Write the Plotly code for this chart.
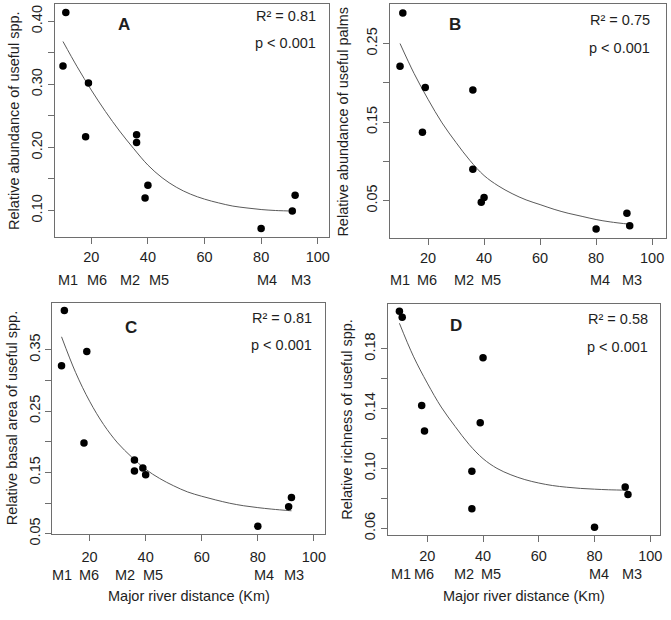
import plotly.graph_objects as go

W, H = 671, 620

# ---------------- data ----------------
distance_km = [10, 11, 18, 19, 36, 36, 39, 40, 80, 91, 92]

abund_useful = [0.329, 0.414, 0.217, 0.302, 0.220, 0.208, 0.120, 0.140, 0.0715, 0.099, 0.124]
abund_palms = [0.221, 0.289, 0.137, 0.194, 0.191, 0.090, 0.048, 0.054, 0.014, 0.034, 0.018]
basal_useful = [0.324, 0.414, 0.198, 0.347, 0.170, 0.152, 0.157, 0.146, 0.062, 0.094, 0.109]
rich_useful = [0.205, 0.201, 0.142, 0.125, 0.098, 0.073, 0.1305, 0.174, 0.0607, 0.0876, 0.0825]

# fitted curves
fit_x = [10, 15, 20, 25, 30, 35, 40, 45, 50, 55, 60, 65, 70, 75, 80, 85, 92]
fit_y_A = [0.368, 0.328, 0.291, 0.257, 0.226, 0.198, 0.172, 0.152, 0.137, 0.126, 0.118,
           0.112, 0.107, 0.104, 0.1015, 0.100, 0.099]
fit_y_B = [0.250, 0.212, 0.179, 0.149, 0.124, 0.101, 0.082, 0.069, 0.059, 0.051, 0.045,
           0.039, 0.034, 0.030, 0.026, 0.023, 0.020]
fit_y_C = [0.371, 0.313, 0.266, 0.228, 0.198, 0.175, 0.155, 0.140, 0.128, 0.118, 0.111,
           0.105, 0.0996, 0.0955, 0.0925, 0.090, 0.0873]
fit_y_D = [0.197, 0.175, 0.157, 0.141, 0.128, 0.116, 0.1065, 0.100, 0.0957, 0.0925, 0.0902,
           0.0885, 0.0874, 0.0866, 0.0861, 0.0857, 0.0854]

site_labels = ["M1", "M6", "M2", "M5", "M4", "M3"]
site_label_x_A = [11.6, 22.1, 33.8, 43.8, 82.1, 94.2]
site_label_x_B = [9.9, 19.6, 32.8, 42.5, 81.4, 92.9]
site_label_x_C = [10.0, 19.8, 32.8, 42.7, 82.1, 92.9]
site_label_x_D = [10.5, 18.8, 33.2, 43.0, 81.6, 93.5]

x_ticks = [20, 40, 60, 80, 100]
y_ticks_A = [0.10, 0.15, 0.20, 0.25, 0.30, 0.35, 0.40]
y_text_A = ["0.10", "", "0.20", "", "0.30", "", "0.40"]
y_ticks_B = [0.05, 0.10, 0.15, 0.20, 0.25]
y_text_B = ["0.05", "", "0.15", "", "0.25"]
y_ticks_C = [0.05, 0.10, 0.15, 0.20, 0.25, 0.30, 0.35]
y_text_C = ["0.05", "", "0.15", "", "0.25", "", "0.35"]
y_ticks_D = [0.06, 0.08, 0.10, 0.12, 0.14, 0.16, 0.18]
y_text_D = ["0.06", "", "0.10", "", "0.14", "", "0.18"]

panel_letters = ["A", "B", "C", "D"]
r2_texts = ["R² = 0.81", "R² = 0.75", "R² = 0.81", "R² = 0.58"]
p_texts = ["p < 0.001"] * 4
y_titles = ["Relative abundance of useful spp.", "Relative abundance of useful palms",
            "Relative basal area of useful spp.", "Relative richness of useful spp."]
x_title = "Major river distance (Km)"

# ---------------- layout geometry (pixels) ----------------
FONT = "Liberation Sans, Arial, sans-serif"
TXT = "#1e1e1e"
AXC = "#6e6e6e"
FS = 14.5


def px_x(p):
    return p / W


def px_y(p):
    return (H - p) / H


panels = [
    dict(box=(55.3, 4, 330, 241.7), xr=[7.2, 103.8], yr=[0.0573, 0.4276],
         y=abund_useful, fy=fit_y_A, yt=y_ticks_A, ytt=y_text_A,
         sx=site_label_x_A, site_y=285, letter_x=31.7, letter_y=25, r2_y=16, p_y=44,
         ytitle_x=13.3, xtitle=False, xstand=0),
    dict(box=(391.7, 4, 669, 242.7), xr=[6.4, 104.96], yr=[0.002, 0.3004],
         y=abund_palms, fy=fit_y_B, yt=y_ticks_B, ytt=y_text_B,
         sx=site_label_x_B, site_y=285, letter_x=29.5, letter_y=25, r2_y=20.5, p_y=48.5,
         ytitle_x=345, xtitle=False, xstand=0),
    dict(box=(52.7, 308.3, 326, 544), xr=[6.76, 103.8], yr=[0.0489, 0.4264],
         y=basal_useful, fy=fit_y_C, yt=y_ticks_C, ytt=y_text_C,
         sx=site_label_x_C, site_y=585, letter_x=34.6, letter_y=333.3, r2_y=323.3, p_y=351.7,
         ytitle_x=11.7, xtitle=True, xstand=3),
    dict(box=(390, 309, 662.7, 544.3), xr=[6.0, 103.4], yr=[0.0557, 0.2102],
         y=rich_useful, fy=fit_y_D, yt=y_ticks_D, ytt=y_text_D,
         sx=site_label_x_D, site_y=584, letter_x=30.4, letter_y=331.7, r2_y=325, p_y=353.3,
         ytitle_x=348.3, xtitle=True, xstand=2),
]

fig = go.Figure()
annotations = []
layout_axes = {}

for i, pn in enumerate(panels):
    n = "" if i == 0 else str(i + 1)
    xa, ya = "x" + n, "y" + n
    l, t, r, b = pn["box"]

    fig.add_trace(go.Scatter(x=fit_x, y=pn["fy"], mode="lines",
                             line=dict(color="#5a5a5a", width=1, shape="spline", smoothing=1),
                             xaxis=xa, yaxis=ya, hoverinfo="skip", showlegend=False))
    fig.add_trace(go.Scatter(x=distance_km, y=pn["y"], mode="markers",
                             marker=dict(color="black", size=7.5, line=dict(width=0)),
                             xaxis=xa, yaxis=ya, showlegend=False))

    common = dict(showline=True, mirror=True, linecolor=AXC, linewidth=1,
                  ticks="outside", ticklen=6, tickcolor=AXC, tickwidth=1,
                  showgrid=False, zeroline=False, ticklabeloverflow="allow",
                  tickfont=dict(family=FONT, size=FS, color=TXT))
    layout_axes["xaxis" + n] = dict(common, domain=[px_x(l), px_x(r)], range=pn["xr"],
                                    anchor=ya, tickmode="array", tickvals=x_ticks,
                                    ticktext=[str(v) for v in x_ticks],
                                    ticklabelstandoff=pn["xstand"])
    layout_axes["yaxis" + n] = dict(common, domain=[px_y(b), px_y(t)], range=pn["yr"],
                                    anchor=xa, tickmode="array", tickvals=pn["yt"],
                                    ticktext=pn["ytt"], tickangle=-90)

    for lab, sx in zip(site_labels, pn["sx"]):
        annotations.append(dict(x=sx, y=px_y(pn["site_y"]), xref=xa, yref="paper",
                                text=lab, showarrow=False, xanchor="center", yanchor="middle",
                                font=dict(family=FONT, size=FS, color=TXT)))
    annotations.append(dict(x=pn["letter_x"], y=px_y(pn["letter_y"]), xref=xa, yref="paper",
                            text="<b>%s</b>" % panel_letters[i], showarrow=False,
                            xanchor="center", yanchor="middle",
                            font=dict(family=FONT, size=17, color=TXT)))
    annotations.append(dict(x=100, y=px_y(pn["r2_y"]), xref=xa, yref="paper",
                            text=r2_texts[i], showarrow=False, xanchor="right", yanchor="middle",
                            font=dict(family=FONT, size=FS, color=TXT)))
    annotations.append(dict(x=100, y=px_y(pn["p_y"]), xref=xa, yref="paper",
                            text=p_texts[i], showarrow=False, xanchor="right", yanchor="middle",
                            font=dict(family=FONT, size=FS, color=TXT)))
    annotations.append(dict(x=px_x(pn["ytitle_x"]), y=px_y((t + b) / 2), xref="paper", yref="paper",
                            text=y_titles[i], showarrow=False, textangle=-90,
                            xanchor="center", yanchor="middle",
                            font=dict(family=FONT, size=FS, color=TXT)))
    if pn["xtitle"]:
        annotations.append(dict(x=px_x((l + r) / 2), y=px_y(606.7), xref="paper", yref="paper",
                                text=x_title, showarrow=False, xanchor="center", yanchor="middle",
                                font=dict(family=FONT, size=FS, color=TXT)))

fig.update_layout(width=W, height=H, margin=dict(l=0, r=0, t=0, b=0),
                  paper_bgcolor="white", plot_bgcolor="white",
                  annotations=annotations, showlegend=False, **layout_axes)

page_fix = (
    "var d=document.documentElement,b=document.body;"
    "[d,b].forEach(function(e){e.style.margin='0';e.style.padding='0';"
    "e.style.overflow='hidden';});"
)

fig.write_html("out.html", config={"displayModeBar": False}, post_script=page_fix)
